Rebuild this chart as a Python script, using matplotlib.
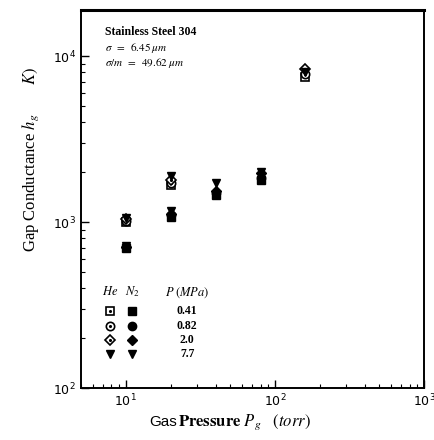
import matplotlib
matplotlib.use('Agg')
import matplotlib.pyplot as plt
import numpy as np

plt.rcParams['font.family'] = 'Liberation Serif'
plt.rcParams['mathtext.fontset'] = 'stix'

# data (gas pressure in torr, gap conductance)
pressures = ['0.41', '0.82', '2.0', '7.7']
markers = ['s', 'o', 'D', 'v']
msizes = [6, 6, 5, 6]

he_x = [10, 20, 160]
he_y = {
    's': [1000, 1680, 7500],
    'o': [1020, 1730, 7850],
    'D': [1050, 1800, 8400],
    'v': [1060, 1900, 8100],
}
n2_x = [10, 20, 40, 80]
n2_y = {
    's': [700, 1080, 1450, 1800],
    'o': [705, 1100, 1500, 1850],
    'D': [710, 1120, 1550, 1980],
    'v': [720, 1170, 1720, 2000],
}

fig = plt.figure(figsize=(4.35, 4.4), dpi=100)
ax = fig.add_axes([0.186, 0.118, 0.789, 0.859])

for m, s in zip(markers, msizes):
    if m == 'v':
        ax.plot(he_x, he_y[m], ls='none', marker=m, ms=s, color='black')
    else:
        ax.plot(he_x, he_y[m], ls='none', marker=m, ms=s, mfc='white', mec='black', mew=1.2)
        ax.plot(he_x, he_y[m], ls='none', marker='.', ms=2.5, color='black')
    ax.plot(n2_x, n2_y[m], ls='none', marker=m, ms=s, color='black')

ax.set_xscale('log')
ax.set_yscale('log')
ax.set_xlim(5, 1000)
ax.set_ylim(100, 19000)

ax.tick_params(which='both', direction='in', top=False, right=False, labelsize=9)
ax.tick_params(which='major', length=6, width=1)
ax.tick_params(which='minor', length=3, width=0.8)
for lab in ax.get_xticklabels() + ax.get_yticklabels():
    lab.set_family('DejaVu Sans')
ax.spines['top'].set_linewidth(2.2)
ax.spines['left'].set_linewidth(1.4)
ax.spines['bottom'].set_linewidth(1.4)
ax.spines['right'].set_linewidth(1.4)

# annotation block
ax.text(0.07, 0.958, 'Stainless Steel 304', transform=ax.transAxes, fontsize=8.5, fontweight='bold', va='top')
ax.text(0.07, 0.919, r'$\sigma\;\;=\;\;6.45\;\mu m$', transform=ax.transAxes, fontsize=8, va='top')
ax.text(0.07, 0.878, r'$\sigma/m\;\;=\;\;49.62\;\mu m$', transform=ax.transAxes, fontsize=8, va='top')

# hand drawn legend table
ax.text(0.085, 0.245, r'$He$', transform=ax.transAxes, fontsize=9, ha='center')
ax.text(0.15, 0.245, r'$N_2$', transform=ax.transAxes, fontsize=9, ha='center')
ax.text(0.31, 0.245, r'$P\;(MPa)$', transform=ax.transAxes, fontsize=9, ha='center')
rows_y = [0.205, 0.165, 0.128, 0.09]
for m, s, p, ry in zip(markers, msizes, pressures, rows_y):
    if m == 'v':
        ax.plot([0.085], [ry], transform=ax.transAxes, marker=m, ms=s, color='black')
    else:
        ax.plot([0.085], [ry], transform=ax.transAxes, marker=m, ms=s, mfc='white', mec='black', mew=1.2)
        ax.plot([0.085], [ry], transform=ax.transAxes, marker='.', ms=2.5, color='black')
    ax.plot([0.15], [ry], transform=ax.transAxes, marker=m, ms=s, color='black')
    ax.text(0.31, ry, p, transform=ax.transAxes, fontsize=8.5, ha='center', va='center', fontweight='bold')

# axis labels
fig.text(0.07, 0.585, r'Gap Conductance $h_g$', rotation=90, fontsize=12, ha='center', va='center')
fig.text(0.07, 0.827, r'$K)$', rotation=90, fontsize=12, ha='center', va='center')
fig.text(0.343, 0.04, 'Gas', family='Liberation Sans', fontsize=11, ha='left', va='center')
fig.text(0.41, 0.04, r'$\mathbf{Pressure}\ P_g\quad (torr)$', fontsize=12, ha='left', va='center')

fig.savefig('out.png', dpi=100)
